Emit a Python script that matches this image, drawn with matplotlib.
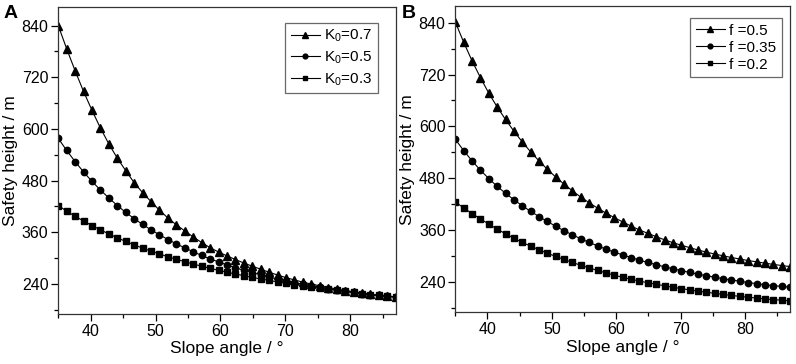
"""Safety height vs slope angle for two parameter sets (panels A and B)."""

import matplotlib
matplotlib.use("Agg")
import matplotlib.pyplot as plt
from matplotlib.ticker import MultipleLocator

plt.rcParams["font.family"] = ["Liberation Sans", "DejaVu Sans"]
plt.rcParams["mathtext.fontset"] = "custom"
plt.rcParams["mathtext.rm"] = "Liberation Sans"
plt.rcParams["mathtext.it"] = "Liberation Sans"
plt.rcParams["mathtext.default"] = "regular"

# slope angle (deg), same grid for every curve
slope_angle = [35.0, 36.3, 37.6, 38.9, 40.2, 41.5, 42.8, 44.1, 45.4, 46.7,
               48.0, 49.3, 50.6, 51.9, 53.2, 54.5, 55.8, 57.1, 58.4, 59.7,
               61.0, 62.3, 63.6, 64.9, 66.2, 67.5, 68.8, 70.1, 71.4, 72.7,
               74.0, 75.3, 76.6, 77.9, 79.2, 80.5, 81.8, 83.1, 84.4, 85.7,
               87.0]

# panel A: lateral pressure coefficient K0
a_labels = ["K$_0$=0.7", "K$_0$=0.5", "K$_0$=0.3"]
a_k07 = [840, 786, 735, 687, 643, 602, 565, 532, 503, 475,
         452, 431, 411, 393, 377, 363, 349, 336, 324, 314,
         305, 296.5, 288.5, 281, 274, 267, 260.5, 254.5, 249, 244,
         239.5, 235.5, 231.5, 228, 224.5, 221.5, 218.5, 216, 213.5, 211.5,
         209.5]
a_k05 = [578, 550, 524, 500, 478, 458, 439.5, 422, 406, 391.5,
         378, 365.5, 354, 343, 333, 323.5, 314.5, 306, 298, 291,
         284, 277.5, 271.5, 266, 261, 256, 251.5, 247, 243, 239.5,
         236, 232.5, 229, 226, 223, 220, 217.5, 215, 213, 211,
         209.5]
a_k03 = [422, 409, 397, 386, 375.5, 365.5, 356, 347, 338.5, 330.5,
         323, 316, 309.5, 303, 297, 291.5, 286, 281, 276, 271.5,
         267, 263, 259, 255, 251.5, 248, 244.5, 241.5, 238.5, 235.5,
         232.5, 230, 227.5, 225, 222.5, 220, 217.5, 215, 213, 211,
         209]

# panel B: friction coefficient f
b_labels = ["f =0.5", "f =0.35", "f =0.2"]
b_f05 = [842, 795, 752, 713, 677, 645, 616, 589, 564, 541,
         520, 500.5, 482.5, 466, 450.5, 436, 423, 410.5, 399, 388.5,
         378.5, 369, 360, 352, 344.5, 337, 330.5, 324.5, 319, 313.5,
         308.5, 304, 300, 296, 292.5, 289, 286, 283, 280, 277.5,
         275]
b_f035 = [570, 544, 520, 498.5, 479, 461, 445, 430, 416, 403,
          391, 379.5, 368.5, 358, 348.5, 339.5, 331, 323, 315.5, 308.5,
          302, 296, 290, 284.5, 279.5, 274.5, 270, 265.5, 261.5, 257.5,
          254, 250.5, 247, 244, 241, 238, 235.5, 233, 231, 229,
          227.5]
b_f02 = [425, 411, 398, 385.5, 373.5, 362, 351, 340.5, 331, 322.5,
         314, 306, 298.5, 291.5, 284.5, 278, 272, 266, 260.5, 255,
         250, 245.5, 241.5, 237.5, 234, 230.5, 227, 224, 221, 218,
         215.5, 213, 210.5, 208, 206, 204, 202, 200, 198.5, 197,
         195.5]

markers = ["^", "o", "s"]
msizes = [6.0, 4.6, 4.2]


def draw_panel(ax, series, labels, ylim, legend_anchor, labelspacing):
    for y, lab, mk, ms in zip(series, labels, markers, msizes):
        ax.plot(slope_angle, y, color="black", lw=0.8, marker=mk, ms=ms,
                label=lab)
    ax.set_xlim(35, 87)
    ax.set_ylim(*ylim)
    ax.xaxis.set_major_locator(MultipleLocator(10))
    ax.xaxis.set_minor_locator(MultipleLocator(5))
    ax.set_yticks(range(240, 841, 120))
    ax.set_yticks(range(180, 900, 120), minor=True)
    ax.tick_params(which="major", direction="out", length=5, width=0.9,
                   labelsize=11.5, pad=2)
    ax.tick_params(which="minor", direction="out", length=3, width=0.9)
    for sp in ax.spines.values():
        sp.set_color("#333333")
        sp.set_linewidth(0.9)
    ax.set_xlabel("Slope angle / °", fontsize=12.5, labelpad=2)
    ax.set_ylabel("Safety height / m", fontsize=12.5, labelpad=3)
    leg = ax.legend(loc="upper right", bbox_to_anchor=legend_anchor,
                    borderaxespad=0, fontsize=11, fancybox=False,
                    frameon=True, handlelength=1.9, handletextpad=0.3,
                    labelspacing=labelspacing, borderpad=0.35,
                    markerscale=0.75)
    leg.get_frame().set_edgecolor("#444444")
    leg.get_frame().set_linewidth(0.9)


fig = plt.figure(figsize=(7.96, 3.64), dpi=100)
ax_a = fig.add_axes([0.0732, 0.1374, 0.4239, 0.8442])
ax_b = fig.add_axes([0.5720, 0.1420, 0.4205, 0.8415])

draw_panel(ax_a, [a_k07, a_k05, a_k03], a_labels, (170, 884),
           (0.947, 0.948), 0.35)
draw_panel(ax_b, [b_f05, b_f035, b_f02], b_labels, (169, 879),
           (0.975, 0.96), 0.2)

fig.text(0.004, 0.985, "A", fontsize=14, fontweight="bold", va="top")
fig.text(0.505, 0.985, "B", fontsize=14, fontweight="bold", va="top")

plt.savefig("out.png", dpi=100)
plt.close()
